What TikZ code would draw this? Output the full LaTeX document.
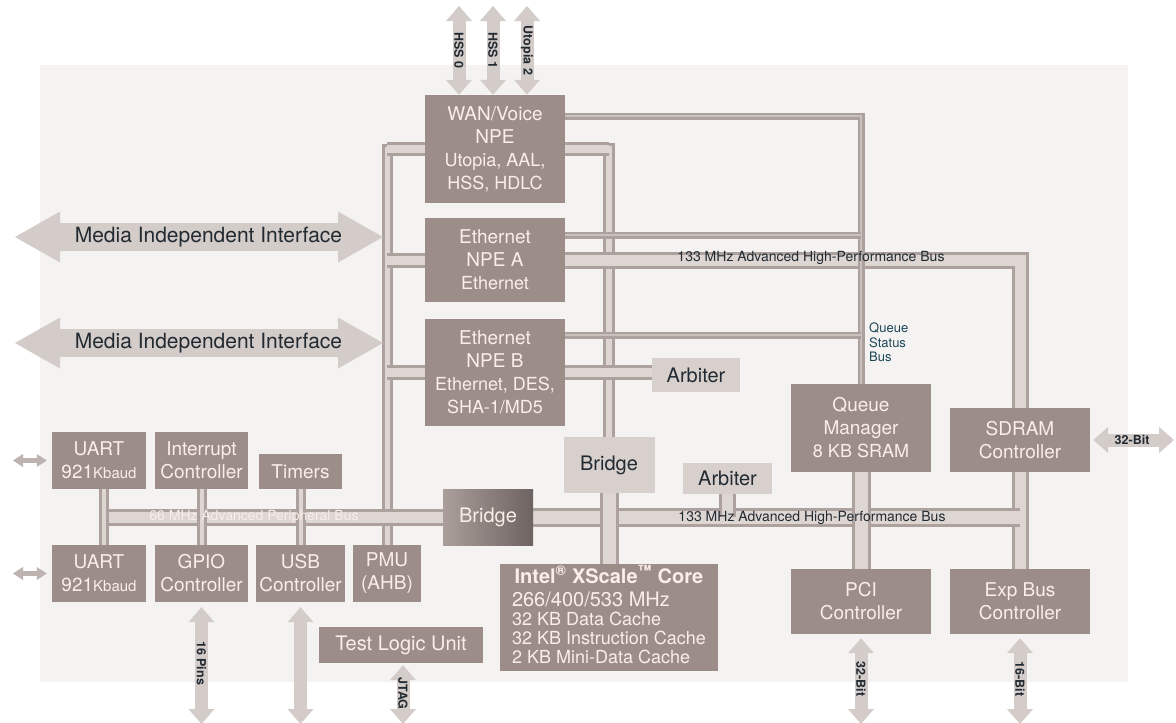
\documentclass[tikz,border=0pt]{standalone}
\usepackage{fontspec}
\setmainfont{TeX Gyre Heros}
\usetikzlibrary{calc,arrows.meta}

\definecolor{panel}{RGB}{245,243,241}
\definecolor{boxdark}{RGB}{156,141,137}
\definecolor{boxlight}{RGB}{216,208,205}
\definecolor{busedge}{RGB}{172,161,157}
\definecolor{buscore}{RGB}{221,214,211}
\definecolor{arrowgrey}{RGB}{211,204,201}
\definecolor{txtlight}{RGB}{250,238,233}
\definecolor{txtdark}{RGB}{34,42,50}
\definecolor{txtteal}{RGB}{28,70,88}

\pgfdeclarelayer{back}
\pgfdeclarelayer{wires}
\pgfsetlayers{back,wires,main}

\newcommand\setfs[2]{\fontsize{#1}{#2}\selectfont}
\newcommand\subfont{\setfs{18}{23}}

\begin{document}
\begin{tikzpicture}[
  x=1pt, y=-1pt,
  line join=miter,
  blk/.style 2 args={fill=boxdark, text=txtlight, align=center, inner sep=0pt,
    minimum width=#1, minimum height=#2, font=\setfs{19}{23}},
  lblk/.style 2 args={fill=boxlight, text=txtdark, inner sep=0pt,
    minimum width=#1, minimum height=#2, font=\setfs{20}{22}},
  bus/.style={draw=busedge, line width=3pt, double=buscore, double distance=#1},
  qbus/.style={draw=busedge, line width=2.5pt, double=buscore!60!busedge, double distance=2pt},
  padarrow/.style={draw=arrowgrey, line width=13pt,
    {Triangle[width=26pt,length=15pt,line width=0pt]}-{Triangle[width=26pt,length=15pt,line width=0pt]}},
  mii/.style={draw=arrowgrey, line width=28pt,
    {Triangle[width=51pt,length=45pt,line width=0pt]}-{Triangle[width=51pt,length=45pt,line width=0pt]}},
  serarrow/.style={draw=busedge!80!white, line width=5pt,
    {Triangle[width=13pt,length=10pt,line width=0pt]}-{Triangle[width=13pt,length=10pt,line width=0pt]}},
  lbl/.style={text=txtdark, inner sep=0pt, font=\setfs{12.5}{14}\bfseries},
  vlbl/.style={lbl, rotate=-90},
  buslbl/.style={text=txtdark, inner sep=0pt, font=\setfs{14}{16}}
]
\begin{pgfonlayer}{back}
\fill[white] (0,0) rectangle (1176,723);
\fill[panel] (40,65) rectangle (1128,682);
\end{pgfonlayer}
\useasboundingbox (0,0) rectangle (1176,723);

% NPE 区
\node[blk={140}{108}] (wan) at (495,149) {WAN/Voice\\NPE\\{\subfont Utopia, AAL,}\\{\subfont HSS, HDLC}};
\node[blk={140}{84}] (npea) at (495,260) {Ethernet\\NPE A\\{\subfont Ethernet}};
\node[blk={140}{107}] (npeb) at (495,372) {Ethernet\\NPE B\\{\subfont Ethernet, DES,}\\{\subfont SHA-1/MD5}};
\node[lblk={88}{34}] (arba) at (696,375) {Arbiter};
\node[lblk={91}{56}] (bra) at (609,465) {Bridge};
\node[lblk={89}{31}] (arbb) at (727.5,478.5) {Arbiter};
\node[blk={90}{56}, left color=boxdark!85!white, right color=boxdark!70!black, font=\setfs{20}{22}] (brb) at (488,517) {Bridge};

% XScale 核
\node[blk={218}{107}, font=\setfs{18}{19}] (core) at (609,617.5) {\begin{tabular}{@{}l@{}}
  \multicolumn{1}{@{}c@{}}{\setfs{20}{19}\bfseries Intel\textsuperscript{\textregistered} XScale\textsuperscript{\texttrademark} Core}\\[3pt]
  {\setfs{20}{19}266/400/533 MHz}\\
  32 KB Data Cache\\
  32 KB Instruction Cache\\
  2 KB Mini-Data Cache
\end{tabular}};
\node[blk={164}{36}, font=\setfs{20}{22}] (tlu) at (401,645) {Test Logic Unit};

% 外设
\node[blk={94}{57}] (uarta) at (99,460.5) {UART\\921{\setfs{15}{23}Kbaud}};
\node[blk={93}{57}] (intc) at (201.5,460.5) {Interrupt\\Controller};
\node[blk={83}{35}] (timers) at (300.5,471.5) {Timers};
\node[blk={94}{57}] (uartb) at (99,573.5) {UART\\921{\setfs{15}{23}Kbaud}};
\node[blk={93}{57}] (gpio) at (201.5,573.5) {GPIO\\Controller};
\node[blk={89}{57}] (usb) at (300.5,573.5) {USB\\Controller};
\node[blk={68}{57}] (pmu) at (387,573.5) {PMU\\(AHB)};

% 右侧
\node[blk={140}{88}] (qm) at (861,428) {Queue\\Manager\\{\subfont 8 KB SRAM}};
\node[blk={140}{64}] (sdram) at (1020,440) {SDRAM\\Controller};
\node[blk={140}{65}] (pci) at (861,601.5) {PCI\\Controller};
\node[blk={140}{65}] (expb) at (1020,601.5) {Exp Bus\\Controller};

% 总线标签
\node[buslbl] (ahbtop) at (811,258) {133 MHz Advanced High-Performance Bus};
\node[buslbl] (ahbbot) at (812,518) {133 MHz Advanced High-Performance Bus};
\node[buslbl, text=txtlight] (apb) at (254,517) {66 MHz Advanced Peripheral Bus};
\node[text=txtteal, inner sep=0pt, align=left, anchor=north west, font=\setfs{13}{14.5}] (qsb) at (869,323) {Queue\\Status\\Bus};

% 外部接口端点
\coordinate (hss0) at (459,6);
\coordinate (hss1) at (493,6);
\coordinate (utop) at (527,6);
\coordinate (miia) at (15,237);
\coordinate (miib) at (15,343);
\coordinate (sera) at (13,460.5);
\coordinate (serb) at (13,573.5);
\coordinate (pins) at (201.5,724);
\coordinate (usbx) at (300.5,724);
\coordinate (jtag) at (403,724);
\coordinate (pcix) at (861,724);
\coordinate (expx) at (1020,724);
\coordinate (sdx) at (1174,440);

\begin{pgfonlayer}{wires}
% 左侧竖总线
\draw[bus=5] (wan.west) -| (pmu.north);
\draw[bus=8] (wan.west) -- (wan.west -| pmu.north);
\draw[bus=9] (npea.west) -- (npea.west -| pmu.north);
\draw[bus=9] (npeb.west) -- (npeb.west -| pmu.north);
% 右侧竖总线
\draw[bus=6] (wan.east) -| (bra.north);
\draw[bus=8] (wan.east) -- (wan.east -| bra.north);
\draw[bus=9] (npeb.east) -- (npeb.east -| arba.west);
% AHB
\draw[bus=11] (npea.east) -| (expb.north);
\draw[bus=13] (brb.east) -- (brb.east -| expb.north);
\draw[bus=13] (bra.south) -- (core.north);
\draw[bus=11] (arbb.south) -- (arbb.south |- brb.east);
\draw[bus=13] (qm.south) -- (pci.north);
% APB
\draw[bus=11] (brb.west) -- ([xshift=5pt]uarta.south |- brb.west);
\draw[bus=4] ([xshift=5pt]uarta.south) -- ([xshift=5pt]uartb.north);
\draw[bus=4] (intc.south) -- (gpio.north);
\draw[bus=4] (timers.south) -- (usb.north);
% Queue Status Bus
\draw[qbus] ([yshift=33pt]wan.east) -| (qm.north);
\draw[qbus] ([yshift=25pt]npea.east) -- ([yshift=25pt]npea.east -| qm.north);
\draw[qbus] ([yshift=37pt]npeb.east) -- ([yshift=37pt]npeb.east -| qm.north);

% 外部接口
\draw[padarrow] (hss0) -- (hss0 |- wan.north) node[midway, vlbl] {HSS 0};
\draw[padarrow] (hss1) -- (hss1 |- wan.north) node[midway, vlbl] {HSS 1};
\draw[padarrow] (utop) -- (utop |- wan.north) node[midway, vlbl] {Utopia 2};
\draw[mii, shorten >=4pt] (miia) -- (miia -| pmu.north)
  node[pos=0.52, text=txtdark, inner sep=0pt, font=\setfs{21}{23}] {Media Independent Interface};
\draw[mii, shorten >=4pt] (miib) -- (miib -| pmu.north)
  node[pos=0.52, text=txtdark, inner sep=0pt, font=\setfs{21}{23}] {Media Independent Interface};
\draw[serarrow, shorten <=5pt] (uarta.west) -- (sera);
\draw[serarrow, shorten <=5pt] (uartb.west) -- (serb);
\draw[padarrow, shorten <=5pt] (gpio.south) -- (pins) node[midway, vlbl] {16 Pins};
\draw[padarrow, shorten <=5pt] (usb.south) -- (usbx);
\draw[padarrow, shorten <=2pt] (tlu.south -| jtag) -- (jtag) node[midway, vlbl] {JTAG};
\draw[padarrow, shorten <=4pt] (pci.south) -- (pcix) node[midway, vlbl] {32-Bit};
\draw[padarrow, shorten <=4pt] (expb.south) -- (expx) node[midway, vlbl] {16-Bit};
\draw[padarrow, shorten <=3pt] (sdram.east) -- (sdx) node[midway, lbl] {32-Bit};
\end{pgfonlayer}
\end{tikzpicture}
\end{document}
